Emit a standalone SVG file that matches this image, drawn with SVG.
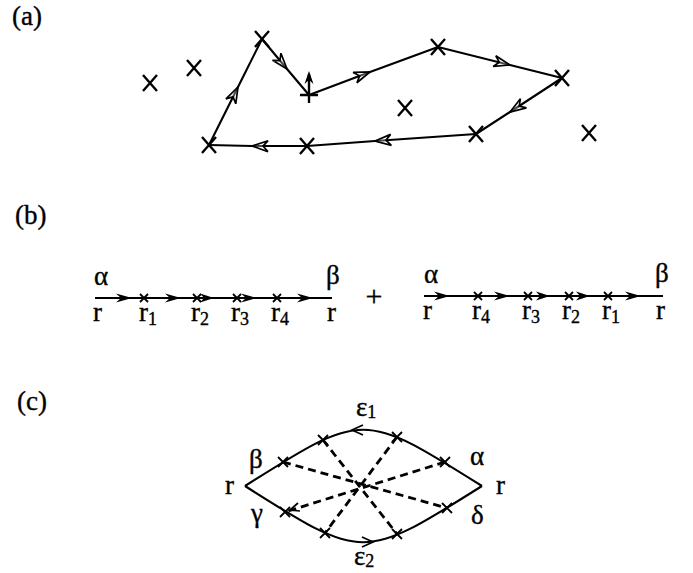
<svg xmlns="http://www.w3.org/2000/svg" width="693" height="573" viewBox="0 0 693 573">
<style>
text{font-family:"Liberation Serif","Times New Roman",serif;fill:#000;stroke:#000;stroke-width:0.35}
.lbl{font-size:27px}
.pl{font-size:27px}
.sub{font-size:18px}
.x{stroke:#000;stroke-width:2.4;fill:none}
.xs{stroke:#000;stroke-width:1.8;fill:none}
.ln{stroke:#000;stroke-width:2.1;fill:none}
.dash{stroke:#000;stroke-width:2.8;fill:none;stroke-dasharray:8 5}
.ahf{fill:#000;stroke:none}
.ahv{fill:none;stroke:#000;stroke-width:1.7}
</style>
<defs>
<marker id="arrA" markerUnits="userSpaceOnUse" orient="auto" refX="0" refY="0" markerWidth="20" markerHeight="12" overflow="visible">
<path d="M-16,-5.5 L0,0 L-16,5.5 L-11,0 Z" fill="#fff" fill-opacity="0.3" stroke="#000" stroke-width="1.7" stroke-linejoin="miter"/>
</marker>
<path id="xa" d="M-7,-8 L7,8 M-7,8 L7,-8"/>
<path id="xb" d="M-4,-4 L4,4 M-4,4 L4,-4"/>
<path id="xc" d="M-5,-5 L5,5 M-5,5 L5,-5"/>
</defs>

<!-- Panel labels -->
<text class="pl" x="12" y="25">(a)</text>
<text class="pl" x="15" y="224">(b)</text>
<text class="pl" x="17" y="410">(c)</text>

<!-- Panel (a) connectors -->
<g id="connectors-a">
<path class="ln" d="M209,145 L238,87 L262,39" marker-mid="url(#arrA)"/>
<path class="ln" d="M262,39 L287,69 L309,95" marker-mid="url(#arrA)"/>
<path class="ln" d="M309,95 L370,72 L438,47" marker-mid="url(#arrA)"/>
<path class="ln" d="M438,47 L510,65 L562,78" marker-mid="url(#arrA)"/>
<path class="ln" d="M562,78 L510,112 L476,134" marker-mid="url(#arrA)"/>
<path class="ln" d="M476,134 L375,141 L307,146" marker-mid="url(#arrA)"/>
<path class="ln" d="M307,146 L252,146 L209,145" marker-mid="url(#arrA)"/>
</g>

<!-- Panel (a) nodes -->
<g id="a-start">
<path class="x" d="M300,95 L318,95 M309,103 L309,74"/>
<path class="ahf" d="M309,71 l-4.5,13 l4.5,-4 l4.5,4 z"/>
</g>
<g id="a-n1"><use href="#xa" class="x" x="150" y="83"/></g>
<g id="a-n2"><use href="#xa" class="x" x="194" y="68"/></g>
<g id="a-n3"><use href="#xa" class="x" x="262" y="39"/></g>
<g id="a-n4"><use href="#xa" class="x" x="438" y="47"/></g>
<g id="a-n5"><use href="#xa" class="x" x="562" y="78"/></g>
<g id="a-n6"><use href="#xa" class="x" x="405" y="108"/></g>
<g id="a-n7"><use href="#xa" class="x" x="476" y="134"/></g>
<g id="a-n8"><use href="#xa" class="x" x="589" y="133"/></g>
<g id="a-n9"><use href="#xa" class="x" x="307" y="146"/></g>
<g id="a-n10"><use href="#xa" class="x" x="209" y="145"/></g>

<!-- Panel (b) connectors -->
<g id="connectors-b">
<path class="ln" d="M95,298 L332,298"/>
<path class="ahf" d="M132,298 l-16,-4.5 l5,4.5 l-5,4.5 z"/>
<path class="ahf" d="M181,298 l-16,-4.5 l5,4.5 l-5,4.5 z"/>
<path class="ahf" d="M214,298 l-14,-4.5 l4,4.5 l-4,4.5 z"/>
<path class="ahf" d="M257,298 l-16,-4.5 l5,4.5 l-5,4.5 z"/>
<path class="ahf" d="M313,298 l-16,-4.5 l5,4.5 l-5,4.5 z"/>
<path class="ln" d="M424,296 L663,296"/>
<path class="ahf" d="M450,296 l-16,-4.5 l5,4.5 l-5,4.5 z"/>
<path class="ahf" d="M510,296 l-16,-4.5 l5,4.5 l-5,4.5 z"/>
<path class="ahf" d="M550,296 l-14,-4.5 l4,4.5 l-4,4.5 z"/>
<path class="ahf" d="M590,296 l-14,-4.5 l4,4.5 l-4,4.5 z"/>
<path class="ahf" d="M641,296 l-16,-4.5 l5,4.5 l-5,4.5 z"/>
</g>

<!-- Panel (b) nodes -->
<g id="b-left-start"><text class="lbl" x="94" y="285">α</text><text class="lbl" x="93" y="321">r</text></g>
<g id="b-left-r1"><use href="#xb" class="xs" x="144" y="298"/><text class="lbl" x="139" y="321">r<tspan class="sub" dy="4">1</tspan></text></g>
<g id="b-left-r2"><use href="#xb" class="xs" x="197" y="298"/><text class="lbl" x="191" y="321">r<tspan class="sub" dy="4">2</tspan></text></g>
<g id="b-left-r3"><use href="#xb" class="xs" x="237" y="298"/><text class="lbl" x="231" y="321">r<tspan class="sub" dy="4">3</tspan></text></g>
<g id="b-left-r4"><use href="#xb" class="xs" x="277" y="298"/><text class="lbl" x="271" y="321">r<tspan class="sub" dy="4">4</tspan></text></g>
<g id="b-left-end"><text class="lbl" x="326" y="284">β</text><text class="lbl" x="327" y="321">r</text></g>
<g id="b-plus"><text class="lbl" x="374" y="306" text-anchor="middle" style="font-size:30px">+</text></g>
<g id="b-right-start"><text class="lbl" x="424" y="283">α</text><text class="lbl" x="423" y="319">r</text></g>
<g id="b-right-r4"><use href="#xb" class="xs" x="478" y="296"/><text class="lbl" x="472" y="319">r<tspan class="sub" dy="4">4</tspan></text></g>
<g id="b-right-r3"><use href="#xb" class="xs" x="528" y="296"/><text class="lbl" x="522" y="319">r<tspan class="sub" dy="4">3</tspan></text></g>
<g id="b-right-r2"><use href="#xb" class="xs" x="569" y="296"/><text class="lbl" x="562" y="319">r<tspan class="sub" dy="4">2</tspan></text></g>
<g id="b-right-r1"><use href="#xb" class="xs" x="608" y="296"/><text class="lbl" x="602" y="319">r<tspan class="sub" dy="4">1</tspan></text></g>
<g id="b-right-end"><text class="lbl" x="655" y="282">β</text><text class="lbl" x="656" y="319">r</text></g>

<!-- Panel (c) connectors -->
<g id="connectors-c">
<path class="ln" d="M245,486 C363,411 363,411 482,486"/>
<path class="ln" d="M245,486 C363,561 363,561 482,486"/>
<path class="ahv" d="M363,425 L352,430 L363,435"/>
<path class="ahv" d="M362,537 L373,542 L362,547"/>
<path class="dash" d="M283,462 L447,508"/>
<path class="dash" d="M445,462 L285,512"/>
<path class="dash" d="M323,440 L397,534"/>
<path class="dash" d="M397,437 L325,533"/>
<path class="ahv" d="M298,503 L290,510 L300,511"/>
</g>

<!-- Panel (c) nodes -->
<g id="c-left"><text class="lbl" x="225" y="494">r</text></g>
<g id="c-right"><text class="lbl" x="496" y="494">r</text></g>
<g id="c-beta"><use href="#xc" class="xs" x="283" y="462"/><text class="lbl" x="249" y="468">β</text></g>
<g id="c-u2"><use href="#xc" class="xs" x="323" y="440"/></g>
<g id="c-u3"><use href="#xc" class="xs" x="397" y="437"/></g>
<g id="c-alpha"><use href="#xc" class="xs" x="445" y="462"/><text class="lbl" x="470" y="465">α</text></g>
<g id="c-gamma"><use href="#xc" class="xs" x="285" y="512"/><text class="lbl" x="251" y="522">γ</text></g>
<g id="c-l2"><use href="#xc" class="xs" x="325" y="533"/></g>
<g id="c-l3"><use href="#xc" class="xs" x="397" y="534"/></g>
<g id="c-delta"><use href="#xc" class="xs" x="447" y="508"/><text class="lbl" x="471" y="524">δ</text></g>
<g id="c-eps1"><text class="lbl" x="356" y="416">ε<tspan class="sub" dy="2">1</tspan></text></g>
<g id="c-eps2"><text class="lbl" x="354" y="565">ε<tspan class="sub" dy="2">2</tspan></text></g>
</svg>
